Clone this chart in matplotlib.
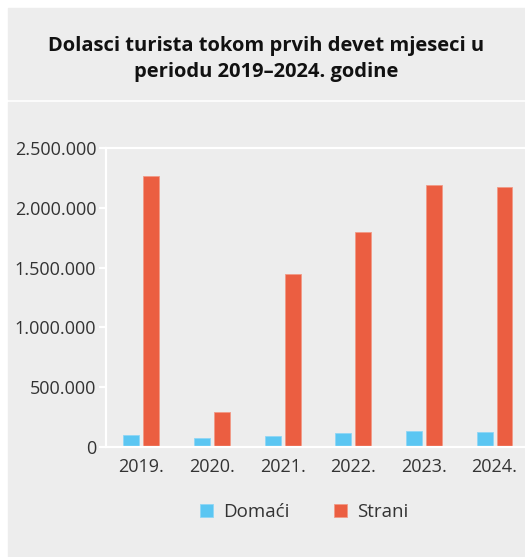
import matplotlib.pyplot as plt
from matplotlib.patches import Rectangle
from matplotlib.ticker import FuncFormatter
import numpy as np

plt.rcParams['font.family'] = ['Open Sans', 'DejaVu Sans']

years = ["2019.", "2020.", "2021.", "2022.", "2023.", "2024."]
domaci = [100000, 73000, 89000, 120000, 136000, 128000]
strani = [2268000, 295000, 1446000, 1798000, 2190000, 2174000]

c_dom = "#5bc6f2"
c_str = "#eb5e41"
panel = "#ededed"
txt = "#333333"

fig = plt.figure(figsize=(5.25, 5.57), dpi=100)
fig.patch.set_facecolor("white")
W, H = 525, 557

# grey background panels
fig.patches.append(Rectangle((8 / W, 1 - 99 / H), 1 - 8 / W, 91 / H,
                             transform=fig.transFigure, color=panel, zorder=-10))
fig.patches.append(Rectangle((8 / W, 0), 1 - 8 / W, 1 - 102 / H,
                             transform=fig.transFigure, color=panel, zorder=-10))

fig.text(266 / W, 1 - 59 / H, "Dolasci turista tokom prvih devet mjeseci u\nperiodu 2019–2024. godine",
         ha="center", va="center", fontsize=14.5, fontweight="bold", color="#111111",
         linespacing=1.45)

ax = fig.add_axes([106 / W, 1 - 447 / H, 1 - 106 / W, 299 / H])
ax.set_zorder(5)
ax.set_facecolor(panel)

x = np.arange(len(years))
w = 0.226
ax.bar(x - 0.14, domaci, w, color=c_dom, edgecolor="#8fd6f5", linewidth=0.6, label="Domaći")
ax.bar(x + 0.14, strani, w, color=c_str, edgecolor="#f29a86", linewidth=0.6, label="Strani")

ax.set_ylim(0, 2500000)
ax.set_xlim(-0.5, 5.43)
ax.set_yticks(np.arange(0, 2500001, 500000))
ax.yaxis.set_major_formatter(FuncFormatter(lambda v, p: f"{int(v):,}".replace(",", ".")))
ax.set_xticks(x)
ax.set_xticklabels(years)

for s in ["left", "bottom", "top"]:
    ax.spines[s].set_color("white")
    ax.spines[s].set_linewidth(1.6)
ax.spines["right"].set_visible(False)

ax.tick_params(axis="y", colors="white", length=5, width=1.6, labelcolor=txt, labelsize=13, pad=2)
ax.tick_params(axis="x", length=0, labelcolor=txt, labelsize=13, pad=8)

fig.legend(loc="center", bbox_to_anchor=(304 / W, 1 - 512 / H), ncol=2, frameon=False,
           fontsize=13.5, labelcolor=txt, handlelength=0.7, handleheight=0.7,
           handletextpad=0.5, columnspacing=2.4)

fig.savefig("out.png", dpi=100)
